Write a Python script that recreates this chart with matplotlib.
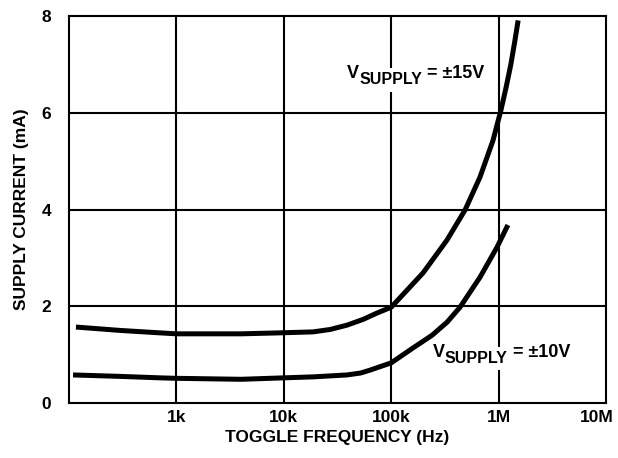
import matplotlib.pyplot as plt
from matplotlib.transforms import offset_copy, ScaledTranslation

plt.rcParams['font.family'] = ['Liberation Sans', 'DejaVu Sans']

# supply current vs toggle frequency
freq_15 = [116, 300, 700, 1e3, 4e3, 9.2e3, 18.7e3, 27e3, 38.8e3, 55e3, 73.8e3, 1e5,
           1.98e5, 3.31e5, 4.87e5, 6.71e5, 8.87e5, 1.05e6, 1.17e6, 1.30e6, 1.42e6,
           1.52e6]
ma_15 = [1.57, 1.50, 1.45, 1.43, 1.43, 1.45, 1.47, 1.52, 1.61, 1.73, 1.86, 1.98,
         2.69, 3.37, 3.99, 4.67, 5.43, 6.05, 6.51, 7.00, 7.50, 7.91]

freq_10 = [109, 300, 700, 1e3, 4e3, 1e4, 18.7e3, 38.8e3, 52e3, 63.6e3, 1e5, 1.6e5,
           2.4e5, 3.31e5, 4.37e5, 6.71e5, 9.66e5, 1.22e6]
ma_10 = [0.58, 0.55, 0.52, 0.51, 0.49, 0.52, 0.54, 0.58, 0.62, 0.68, 0.83, 1.14,
         1.40, 1.67, 1.98, 2.60, 3.22, 3.68]

xticks = [1e3, 1e4, 1e5, 1e6, 1e7]
xticklabels = ['1k', '10k', '100k', '1M', '10M']
yticks = [0, 2, 4, 6, 8]

fig = plt.figure(figsize=(6.18, 4.58), dpi=100)
ax = fig.add_axes([0.1117, 0.1201, 0.8689, 0.8449])

ax.plot(freq_15, ma_15, color='black', lw=3.6, solid_capstyle='butt', zorder=3)
ax.plot(freq_10, ma_10, color='black', lw=3.6, solid_capstyle='butt', zorder=3)

ax.set_xscale('log')
ax.set_xlim(100, 1e7)
ax.set_ylim(0, 8)
ax.set_xticks(xticks)
ax.set_xticklabels(xticklabels)
ax.xaxis.set_minor_locator(plt.NullLocator())
ax.set_yticks(yticks)
ax.tick_params(length=0, labelsize=12.5)
ax.tick_params(axis='x', pad=5)
ax.tick_params(axis='y', pad=13)
for lab in ax.get_xticklabels() + ax.get_yticklabels():
    lab.set_fontweight('bold')
# the 10M label sits a little left of the right edge
last = ax.get_xticklabels()[-1]
last.set_transform(last.get_transform() + ScaledTranslation(-9 / 100, 0, fig.dpi_scale_trans))

for x in [1e3, 1e4, 1e5, 1e6]:
    ax.axvline(x, color='black', lw=1.5, zorder=1)
for y in [2, 4, 6]:
    ax.axhline(y, color='black', lw=1.5, zorder=1)
for s in ax.spines.values():
    s.set_linewidth(1.5)

ax.set_xlabel('TOGGLE FREQUENCY (Hz)', fontsize=12.5, fontweight='bold', labelpad=4)
ax.set_ylabel('SUPPLY CURRENT (mA)', fontsize=12.5, fontweight='bold', labelpad=9)

renderer = fig.canvas.get_renderer()


def supply_label(x, y, volts):
    # V, subscript SUPPLY, then "= ±NNV", laid out piece by piece;
    # a white copy with a box goes underneath so grid lines break around it
    pieces = [('V', 13, 0), ('SUPPLY', 11.5, -6), (' = ±' + volts, 13, 0)]
    dx = 0
    for s, size, dy in pieces:
        tr = offset_copy(ax.transData, fig=fig, x=dx, y=dy, units='dots')
        ax.text(x, y, s, transform=tr, fontsize=size, fontweight='bold', color='white',
                ha='left', va='baseline', zorder=1.5,
                bbox=dict(facecolor='white', edgecolor='none', pad=3))
        t = ax.text(x, y, s, transform=tr, fontsize=size, fontweight='bold',
                    ha='left', va='baseline', zorder=2)
        dx += t.get_window_extent(renderer).width


supply_label(38.8e3, 6.71, '15V')
supply_label(245e3, 0.95, '10V')

fig.savefig('out.png', dpi=100)
